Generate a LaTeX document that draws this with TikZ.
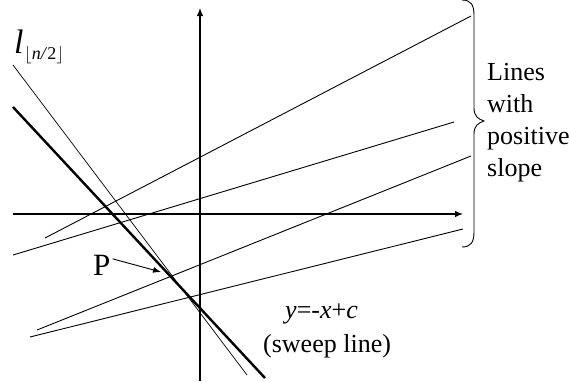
\documentclass[tikz,border=0pt]{standalone}
\usepackage{fontspec}
\setmainfont{Liberation Serif}
\usetikzlibrary{arrows.meta}
\tikzset{
  thinline/.style={line width=0.9pt},
  thickline/.style={line width=2.4pt},
  axis/.style={line width=1.1pt,-{Latex[length=8pt,width=6.5pt]}},
  lbl/.style={inner sep=0pt,anchor=base west,font=\fontsize{26}{30}\selectfont},
}
\begin{document}
\begin{tikzpicture}[x=1pt,y=-1pt]
\useasboundingbox (0,0) rectangle (569,381);
% axes
\coordinate (yb) at (200,381); \coordinate (yt) at (200,8);
\coordinate (xl) at (13,214);  \coordinate (xr) at (463,214);
\draw[axis] (yb) -- (yt);
\draw[axis] (xl) -- (xr);
% lines with positive slope
\coordinate (a1) at (45,238);  \coordinate (b1) at (471,16);
\coordinate (a2) at (13,255);  \coordinate (b2) at (454,122);
\coordinate (a3) at (37,330);  \coordinate (b3) at (471,156);
\coordinate (a4) at (30,337);  \coordinate (b4) at (463,229);
\draw[thinline] (a1) -- (b1);
\draw[thinline] (a2) -- (b2);
\draw[thinline] (a3) -- (b3);
\draw[thinline] (a4) -- (b4);
% l_{n/2} and sweep line
\coordinate (ln1) at (13,65);  \coordinate (ln2) at (247,375);
\draw[line width=0.7pt] (ln1) -- (ln2);
\coordinate (sw1) at (13,107); \coordinate (sw2) at (265,378);
\draw[thickline] (sw1) -- (sw2);
% labels
\node[lbl,font=\fontsize{34}{36}\selectfont\itshape] (lname) at (14,53) {l};
\node[lbl,font=\fontsize{18}{22}\selectfont] (lsub) at (24,59) {$\big\lfloor$\textit{n/}2$\big\rfloor$};
\node[lbl,font=\fontsize{31}{34}\selectfont] (P) at (93,275) {P};
\coordinate (Ptip) at (161,272);
\draw[line width=0.9pt,-{Latex[length=8pt,width=6pt]}] (P.east) ++(2,-6) coordinate (Pst) -- (Ptip);
\node[lbl] (eq) at (285,318) {\textit{y}=-\textit{x}+\textit{c}};
\node[lbl] (sw) at (263,352) {(sweep line)};
% brace
\draw[line width=0.9pt] (462,0) .. controls (471,0) and (474,5) .. (474,15)
  -- (474,108) .. controls (474,116) and (478,119) .. (484,121)
  .. controls (478,123) and (474,126) .. (474,134)
  -- (474,232) .. controls (474,242) and (471,247) .. (462,247);
\node[lbl] (t1) at (487,80) {Lines};
\node[lbl] (t2) at (487,112) {with};
\node[lbl] (t3) at (487,144) {positive};
\node[lbl] (t4) at (487,176) {slope};
\end{tikzpicture}
\end{document}
